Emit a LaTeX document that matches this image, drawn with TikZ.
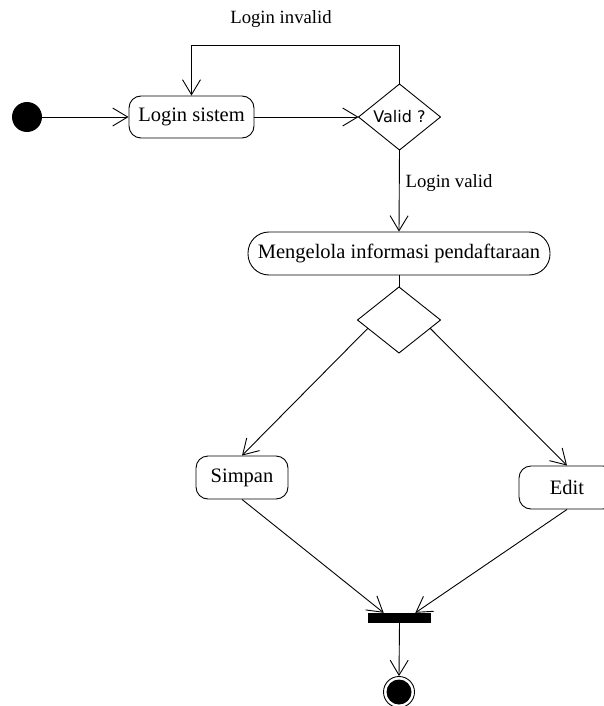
\documentclass[tikz,border=0pt]{standalone}
\usepackage{fontspec}
\setmainfont{Liberation Serif}
\newfontfamily\dvsans{DejaVu Sans}
\usetikzlibrary{arrows.meta,shapes.geometric,calc}
\tikzset{
  act/.style={draw,rounded corners=12pt,line width=0.9pt,inner sep=0pt,font=\fontsize{20.5}{22}\selectfont},
  dec/.style={draw,diamond,line width=0.9pt,inner sep=0pt,outer sep=0pt,font=\dvsans\fontsize{16}{18}\selectfont},
  flow/.style={line width=0.9pt,-{Straight Barb[length=15pt,width=18pt,line width=0.9pt]}},
  lbl/.style={font=\fontsize{18.7}{20}\selectfont,inner sep=0pt},
}
\begin{document}
\begin{tikzpicture}[x=1pt,y=-1pt]
\useasboundingbox (0,0) rectangle (603,706);
\node[circle,fill=black,minimum size=30pt,inner sep=0pt] (start) at (27,117) {};
\node[act,minimum width=125pt,minimum height=42pt] (login) at (191.5,117) {Login sistem};
\node[dec,minimum width=82pt,minimum height=66pt] (valid) at (399.5,117) {Valid ?};
\node[act,rounded corners=21pt,minimum width=302pt,minimum height=43pt] (kelola) at (399,253.5) {Mengelola informasi pendaftaraan};
\node[dec,minimum width=83pt,minimum height=66pt] (d2) at (399,320) {};
\node[act,minimum width=92pt,minimum height=43pt] (simpan) at (242,477.5) {Simpan};
\node[act,minimum width=96pt,minimum height=43pt] (edit) at (567,487.5) {Edit};
\node[fill=black,minimum width=63pt,minimum height=10pt,inner sep=0pt] (bar) at (399.5,618) {};
\node[circle,draw,line width=0.9pt,minimum size=31pt,inner sep=0pt] (end) at (399,692) {};
\node[circle,fill=black,minimum size=25pt,inner sep=0pt] (endin) at (end.center) {};
\node[lbl] (linv) at (281,19) {Login invalid};
\node[lbl] (lval) at (449,183) {Login valid};

\draw[flow] (start) -- (login);
\draw[flow] (login) -- (valid);
\draw[flow] (valid.north) -- ++(0,-39) -| (login.north);
\draw[flow] (valid.south) -- (kelola.north);
\draw[line width=0.9pt] (kelola.south) -- (d2.north);
\draw[flow] ($(d2.west)!0.25!(d2.south)$) -- (simpan.north);
\draw[flow] ($(d2.east)!0.25!(d2.south)$) -- (edit.north);
\draw[flow] (simpan.south) -- ($(bar.north)!0.5!(bar.north west)$);
\draw[flow] (edit.south) -- ($(bar.north)!0.5!(bar.north east)$);
\draw[flow] (bar.south) -- (end.north);
\end{tikzpicture}
\end{document}
